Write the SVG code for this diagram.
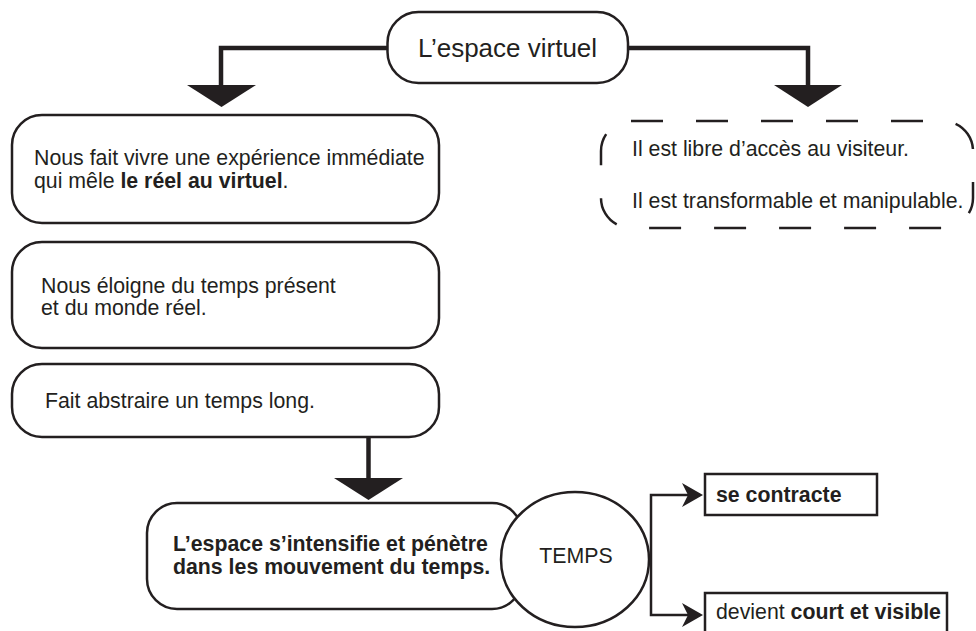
<svg xmlns="http://www.w3.org/2000/svg" width="976" height="631" viewBox="0 0 976 631">
<style>
  .box { fill: #ffffff; stroke: #231f20; stroke-width: 2.5; }
  .dash { fill: none; stroke: #231f20; stroke-width: 2.5; stroke-dasharray: 32 33; }
  .t { font-family: "Liberation Sans", Arial, Helvetica, sans-serif; font-size: 21.3px; fill: #231f20; }
  .b { font-weight: bold; }
  .big { font-size: 26px; }
  .thick { fill: none; stroke: #231f20; stroke-width: 4.5; }
  .thin { fill: none; stroke: #231f20; stroke-width: 2.5; }
  .head { fill: #231f20; }
</style>
<defs>
  <marker id="arr" markerUnits="userSpaceOnUse" viewBox="-20 -13 24 26" refX="0" refY="0" markerWidth="24" markerHeight="26" orient="auto">
    <path d="M-18,-12 L3,0 L-18,12 L-12,0 Z" fill="#231f20"/>
  </marker>
</defs>
<rect width="976" height="631" fill="#ffffff"/>

<g id="connectors">
  <path class="thick" d="M388,48 H221 V86"/>
  <polygon class="head" points="187,85 256,85 221.5,107"/>
  <path class="thick" d="M627,48 H808 V86"/>
  <polygon class="head" points="774,85 842,85 808,107"/>
  <path class="thick" d="M368.5,437 V479"/>
  <polygon class="head" points="334,478 403,478 368.5,500"/>
  <path class="thin" d="M651,559 V495 H700" marker-end="url(#arr)"/>
  <path class="thin" d="M651,559 V615 H700" marker-end="url(#arr)"/>
</g>

<g id="node-top">
  <rect class="box" x="387.5" y="12" width="240.5" height="71" rx="31"/>
  <text class="t big" x="507.5" y="57" text-anchor="middle">L’espace virtuel</text>
</g>

<g id="node-dashed">
  <rect class="dash" x="601" y="121" width="372" height="107" rx="30"/>
  <text class="t" x="632" y="156">Il est libre d’accès au visiteur.</text>
  <text class="t" x="632" y="208">Il est transformable et manipulable.</text>
</g>

<g id="node-1">
  <rect class="box" x="12" y="115" width="427" height="108" rx="30"/>
  <text class="t" x="34" y="165">Nous fait vivre une expérience immédiate</text>
  <text class="t" x="34" y="188">qui mêle <tspan class="b">le réel au virtuel</tspan>.</text>
</g>

<g id="node-2">
  <rect class="box" x="12" y="242" width="427" height="106" rx="30"/>
  <text class="t" x="41" y="293">Nous éloigne du temps présent</text>
  <text class="t" x="41" y="315">et du monde réel.</text>
</g>

<g id="node-3">
  <rect class="box" x="12" y="364" width="427" height="73" rx="30"/>
  <text class="t" x="45" y="408">Fait abstraire un temps long.</text>
</g>

<g id="node-4">
  <rect class="box" x="147" y="503" width="375" height="106" rx="30"/>
  <text class="t b" x="173" y="551">L’espace s’intensifie et pénètre</text>
  <text class="t b" x="173" y="574">dans les mouvement du temps.</text>
</g>

<g id="node-temps">
  <ellipse class="box" cx="575" cy="559.5" rx="74" ry="67.5"/>
  <text class="t" x="576" y="563" text-anchor="middle">TEMPS</text>
</g>

<g id="node-contracte">
  <rect class="box" x="705" y="474" width="172" height="41"/>
  <text class="t b" x="716" y="502">se contracte</text>
</g>

<g id="node-visible">
  <rect class="box" x="705" y="593" width="242" height="45"/>
  <text class="t" x="716" y="619">devient <tspan class="b">court et visible</tspan></text>
</g>
</svg>
